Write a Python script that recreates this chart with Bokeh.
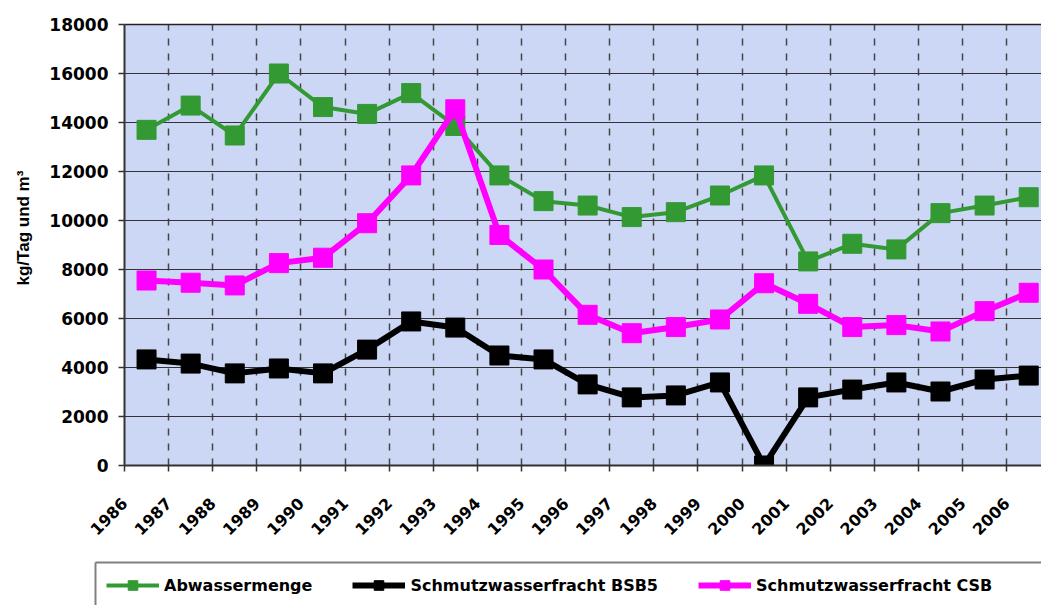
import math
from bokeh.plotting import figure
from bokeh.layouts import column
from bokeh.models import Range1d, FixedTicker, LinearAxis, Legend, LegendItem, Title
from bokeh.embed import file_html
from bokeh.resources import INLINE

# ---- data ----
years = ["1986", "1987", "1988", "1989", "1990", "1991", "1992", "1993", "1994", "1995",
         "1996", "1997", "1998", "1999", "2000", "2001", "2002", "2003", "2004", "2005", "2006"]
abwassermenge = [13700, 14690, 13470, 16000, 14630, 14350, 15200, 13860, 11840, 10790,
                 10610, 10140, 10340, 11020, 11840, 8330, 9050, 8820, 10300, 10610, 10950]
bsb5 = [4330, 4160, 3760, 3960, 3760, 4730, 5880, 5630, 4490, 4330,
        3310, 2780, 2860, 3390, 0, 2780, 3100, 3390, 3020, 3510, 3670]
csb = [7550, 7460, 7350, 8260, 8480, 9890, 11840, 14540, 9410, 8000,
       6150, 5400, 5650, 5960, 7440, 6600, 5650, 5730, 5470, 6300, 7050]
y_ticks = [0, 2000, 4000, 6000, 8000, 10000, 12000, 14000, 16000, 18000]

series_names = ["Abwassermenge", "Schmutzwasserfracht BSB5", "Schmutzwasserfracht CSB"]
series_colors = ["#339933", "#000000", "#ff00ff"]
series_widths = [4, 6, 6]
series_values = [abwassermenge, bsb5, csb]

# category centres (points sit between the tick marks)
xs = [i + 0.5 for i in range(len(years))]

# ================= main chart =================
p = figure(width=1041, height=560,
           x_range=Range1d(0, 20.79), y_range=Range1d(0, 18000),
           output_backend="svg", toolbar_location=None,
           min_border_left=124, min_border_right=0, min_border_top=24, min_border_bottom=95,
           background_fill_color="#cbd7f5", border_fill_color="white",
           outline_line_color=None)

xa = p.xaxis[0]
xa.ticker = FixedTicker(ticks=list(range(len(years))))
xa.major_label_overrides = {i: y for i, y in enumerate(years)}
xa.major_label_orientation = math.pi / 4
xa.major_label_standoff = 29
xa.major_label_text_font = "DejaVu Sans"
xa.major_label_text_font_style = "bold"
xa.major_label_text_font_size = "16px"
xa.major_label_text_color = "black"

ya = p.yaxis[0]
ya.ticker = FixedTicker(ticks=y_ticks)
ya.major_label_standoff = 10
ya.major_label_text_font = "DejaVu Sans"
ya.major_label_text_font_style = "bold"
ya.major_label_text_font_size = "17px"
ya.major_label_text_color = "black"

for ax in (xa, ya):
    ax.axis_line_color = "#333333"
    ax.axis_line_width = 2
    ax.major_tick_line_color = "#333333"
    ax.major_tick_line_width = 1.5
    ax.major_tick_out = 6
    ax.major_tick_in = 0
    ax.minor_tick_line_color = None

top_axis = LinearAxis(ticker=FixedTicker(ticks=[]), axis_line_color="#222222",
                      axis_line_width=1.5, major_tick_line_color=None,
                      minor_tick_line_color=None, major_tick_out=0, major_tick_in=0,
                      major_label_standoff=0, major_label_text_font_size="0px")
p.add_layout(top_axis, "above")

p.add_layout(Title(text="kg/Tag und m³", align="left", offset=180, standoff=24,
                   vertical_align="top",
                   text_font="Liberation Sans", text_font_style="bold",
                   text_font_size="17px", text_color="black"), "left")

p.xgrid.ticker = FixedTicker(ticks=list(range(1, len(years))))
p.xgrid.grid_line_color = "#444444"
p.xgrid.grid_line_width = 1.5
p.xgrid.grid_line_dash = "7 8"
p.ygrid.ticker = FixedTicker(ticks=y_ticks)
p.ygrid.grid_line_color = "#333333"
p.ygrid.grid_line_width = 1

for vals, col, lw in zip(series_values, series_colors, series_widths):
    p.line(xs, vals, line_color=col, line_width=lw)
    p.scatter(xs, vals, marker="square", size=19, fill_color=col, line_color=col)

# ================= legend strip =================
# (its renderers use the same series, but lie outside this strip's ranges,
#  so only their legend swatches are visible)
q = figure(width=1041, height=45, x_range=Range1d(0, 1), y_range=Range1d(-2, -1),
           output_backend="svg", toolbar_location=None,
           x_axis_location=None, y_axis_location=None,
           min_border_left=95, min_border_right=0, min_border_top=2, min_border_bottom=0,
           background_fill_color="white", border_fill_color="white",
           outline_line_color=None)
q.grid.visible = False
for fig in (p, q):
    try:
        fig.frame_align = False
    except (AttributeError, ValueError):
        pass

for side in ("above", "left"):
    q.add_layout(LinearAxis(ticker=FixedTicker(ticks=[]), axis_line_color="#808080",
                            axis_line_width=2, major_tick_line_color=None,
                            minor_tick_line_color=None, major_tick_out=0, major_tick_in=0,
                            major_label_standoff=0, major_label_text_font_size="0px"), side)

items = []
for name, vals, col, lw in zip(series_names, series_values, series_colors, series_widths):
    rl = q.line(xs, vals, line_color=col, line_width=lw)
    rs = q.scatter(xs, vals, marker="square", size=19, fill_color=col, line_color=col)
    items.append(LegendItem(label=name, renderers=[rl, rs]))

legend = Legend(items=items, orientation="horizontal", location=(11, 8),
                glyph_width=53, glyph_height=24, label_standoff=5, spacing=40,
                padding=8, margin=0,
                label_text_font="DejaVu Sans", label_text_font_style="bold",
                label_text_font_size="16px", label_text_color="black",
                border_line_color=None, background_fill_alpha=0)
q.add_layout(legend)

layout = column(p, q, spacing=0)
open("out.html", "w").write(file_html(layout, INLINE))
